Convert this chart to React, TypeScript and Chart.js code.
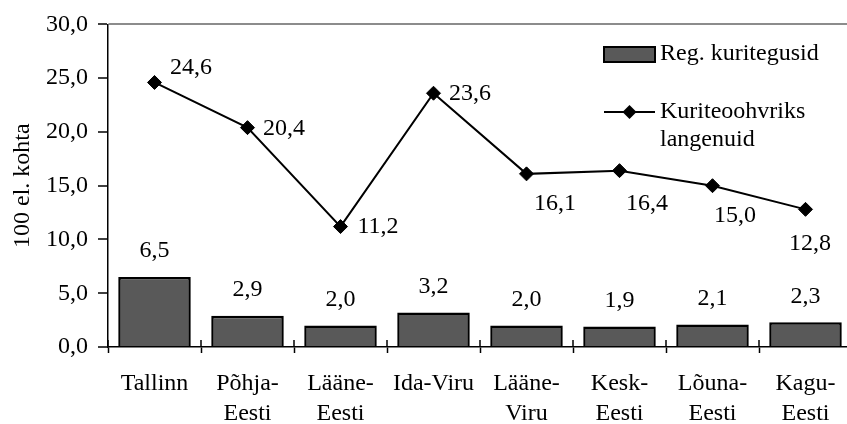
import React, { useEffect, useRef } from "react";
import { Chart, registerables } from "chart.js";

Chart.register(...registerables);

const categories: (string | string[])[] = [
  "Tallinn",
  ["Põhja-", "Eesti"],
  ["Lääne-", "Eesti"],
  "Ida-Viru",
  ["Lääne-", "Viru"],
  ["Kesk-", "Eesti"],
  ["Lõuna-", "Eesti"],
  ["Kagu-", "Eesti"],
];
const crimes = [6.5, 2.9, 2.0, 3.2, 2.0, 1.9, 2.1, 2.3];
const victims = [24.6, 20.4, 11.2, 23.6, 16.1, 16.4, 15.0, 12.8];
const barLabel = "Reg. kuritegusid";
const lineLabel = ["Kuriteoohvriks", "langenuid"];
const yTitle = "100 el. kohta";

const FAMILY = "'Liberation Serif', 'Times New Roman', serif";
const FONT_SIZE = 24;
const BAR_FILL = "#595959";
const fmt = (v: number) => v.toFixed(1).replace(".", ",");

// label centre offsets from each line point (dx, dy), in px
const LINE_LABEL_OFFSETS: [number, number][] = [
  [36.5, -14.5],
  [36.5, 1],
  [37.5, 0],
  [36.5, 0],
  [28.5, 30],
  [27.5, 33],
  [22.5, 30],
  [4.5, 34],
];

const valueLabels = {
  id: "valueLabels",
  afterDatasetsDraw(chart: any) {
    const ctx = chart.ctx;
    ctx.save();
    ctx.font = `${FONT_SIZE}px ${FAMILY}`;
    ctx.fillStyle = "#000";
    ctx.textAlign = "center";
    ctx.textBaseline = "middle";
    const barMeta = chart.getDatasetMeta(0);
    barMeta.data.forEach((el: any, i: number) => {
      ctx.fillText(fmt(crimes[i]), el.x, el.y - 26);
    });
    const lineMeta = chart.getDatasetMeta(1);
    lineMeta.data.forEach((el: any, i: number) => {
      const [dx, dy] = LINE_LABEL_OFFSETS[i];
      ctx.fillText(fmt(victims[i]), el.x + dx, el.y + dy);
    });
    ctx.restore();
  },
};

// upper half of the "cross" tick marks on the category axis
const crossTicks = {
  id: "crossTicks",
  afterDraw(chart: any) {
    const x = chart.scales.x;
    const y0 = chart.chartArea.bottom;
    const ctx = chart.ctx;
    ctx.save();
    ctx.strokeStyle = "#000";
    ctx.lineWidth = 1.5;
    const n = categories.length;
    for (let i = 0; i <= n; i++) {
      const px = x.getPixelForValue(i - 0.5);
      ctx.beginPath();
      ctx.moveTo(px, y0 - 7);
      ctx.lineTo(px, y0);
      ctx.stroke();
    }
    ctx.restore();
  },
};

const customLegend = {
  id: "customLegend",
  afterDraw(chart: any) {
    const ctx = chart.ctx;
    ctx.save();
    // bar entry
    ctx.fillStyle = BAR_FILL;
    ctx.strokeStyle = "#000";
    ctx.lineWidth = 2;
    ctx.fillRect(604, 47, 51, 15);
    ctx.strokeRect(604, 47, 51, 15);
    ctx.font = `${FONT_SIZE}px ${FAMILY}`;
    ctx.fillStyle = "#000";
    ctx.textAlign = "left";
    ctx.textBaseline = "middle";
    ctx.fillText(barLabel, 660, 54);
    // line entry
    ctx.beginPath();
    ctx.moveTo(604, 112);
    ctx.lineTo(655, 112);
    ctx.lineWidth = 2;
    ctx.stroke();
    ctx.beginPath();
    ctx.moveTo(622.5, 112);
    ctx.lineTo(629.5, 105);
    ctx.lineTo(636.5, 112);
    ctx.lineTo(629.5, 119);
    ctx.closePath();
    ctx.fill();
    ctx.fillText(lineLabel[0], 660, 112);
    ctx.fillText(lineLabel[1], 660, 140);
    ctx.restore();
  },
};

export default function App() {
  const ref = useRef<HTMLCanvasElement | null>(null);

  useEffect(() => {
    document.body.style.margin = "0";
    if (!ref.current) return;
    const font = { family: FAMILY, size: FONT_SIZE };
    const chart = new Chart(ref.current, {
      type: "bar",
      data: {
        labels: categories as any,
        datasets: [
          {
            type: "bar",
            label: barLabel,
            data: crimes,
            backgroundColor: BAR_FILL,
            borderColor: "#000",
            borderWidth: 2.5,
            barPercentage: 0.78,
            categoryPercentage: 1,
            order: 1,
          } as any,
          {
            type: "line",
            label: lineLabel.join(" "),
            data: victims,
            borderColor: "#000",
            borderWidth: 2,
            pointStyle: "rectRot",
            pointRadius: 7,
            pointBackgroundColor: "#000",
            pointBorderColor: "#000",
            pointBorderWidth: 1,
            tension: 0,
            order: 0,
          } as any,
        ],
      },
      options: {
        animation: false,
        responsive: true,
        maintainAspectRatio: false,
        layout: { padding: { top: 22, right: 8, left: 0, bottom: 0 } },
        plugins: {
          legend: { display: false },
          tooltip: { enabled: false },
        },
        scales: {
          x: {
            offset: true,
            grid: {
              display: true,
              drawOnChartArea: false,
              offset: true,
              tickLength: 6,
              tickColor: "#000",
              tickWidth: 1.5,
              color: "#000",
            },
            border: { color: "#000", width: 1.5 },
            ticks: {
              color: "#000",
              font: { ...font, lineHeight: 1.25 },
              padding: 16,
              maxRotation: 0,
              autoSkip: false,
            },
            afterFit: (s: any) => {
              s.height = 77;
            },
          },
          y: {
            min: 0,
            max: 30,
            ticks: {
              stepSize: 5,
              callback: (v: any) => fmt(Number(v)),
              color: "#000",
              font,
              padding: 10,
            },
            grid: {
              color: (c: any) =>
                c.tick && c.tick.value === 30 ? "#8c8c8c" : "rgba(0,0,0,0)",
              lineWidth: 2,
              tickColor: "#000",
              tickWidth: 1.5,
              tickLength: 10,
            },
            border: { color: "#000", width: 1.5 },
            title: {
              display: true,
              text: yTitle,
              color: "#000",
              font,
              padding: { top: 8, bottom: 0 },
            },
            afterFit: (s: any) => {
              s.width = 108;
            },
          },
        },
      } as any,
      plugins: [valueLabels, crossTicks, customLegend],
    });
    return () => chart.destroy();
  }, []);

  return (
    <div style={{ width: 847, height: 424, overflow: "hidden", background: "#fff" }}>
      <div style={{ width: 860, height: 424, position: "relative" }}>
        <canvas ref={ref} />
      </div>
    </div>
  );
}
